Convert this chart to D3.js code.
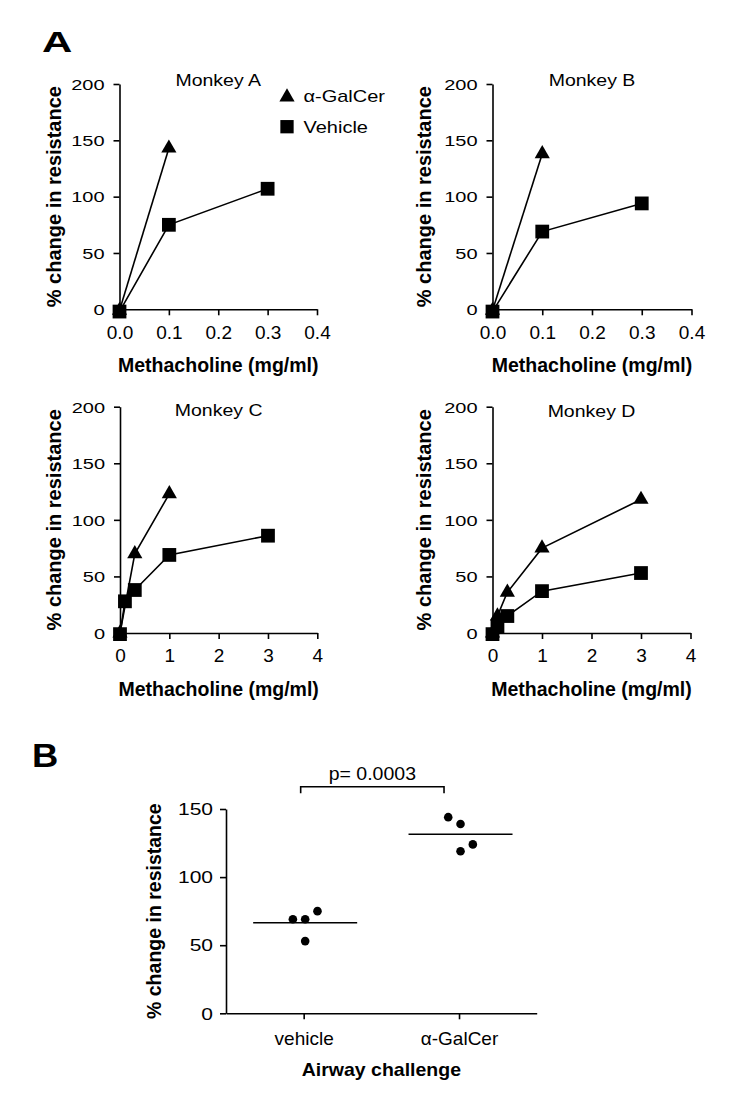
<!DOCTYPE html>
<html><head><meta charset="utf-8">
<script src="https://cdn.jsdelivr.net/npm/d3@7"></script>
<style>
body{margin:0;background:#fff}
svg{display:block}
text{font-family:"Liberation Sans",Arial,Helvetica,sans-serif;fill:#000}
</style>
</head><body>
<svg id="fig" width="750" height="1097"></svg>
<script>
// ---------------- DATA ----------------
const panelTitles = ["Monkey A", "Monkey B", "Monkey C", "Monkey D"];
const seriesNames = ["α-GalCer", "Vehicle"];
const xAxisTitle = "Methacholine (mg/ml)";
const yAxisTitle = "% change in resistance";
const xTicksLow = [0, 0.1, 0.2, 0.3, 0.4];
const xTicksHigh = [0, 1, 2, 3, 4];
const yTicksA = [0, 50, 100, 150, 200];

const monkeyADoseGal = [0, 0.1];
const monkeyAGal = [-1, 143];
const monkeyADoseVeh = [0, 0.1, 0.3];
const monkeyAVeh = [-2, 75, 107];

const monkeyBDoseGal = [0, 0.1];
const monkeyBGal = [-1, 138];
const monkeyBDoseVeh = [0, 0.1, 0.3];
const monkeyBVeh = [-2, 69, 94];

const monkeyCDoseGal = [0, 0.3, 1];
const monkeyCGal = [0, 70, 123];
const monkeyCDoseVeh = [0, 0.1, 0.3, 1, 3];
const monkeyCVeh = [-1, 28, 38, 69, 86];

const monkeyDDoseGal = [0, 0.1, 0.3, 1, 3];
const monkeyDGal = [0, 15, 36, 75, 118];
const monkeyDDoseVeh = [0, 0.1, 0.3, 1, 3];
const monkeyDVeh = [-1, 6, 15, 37, 53];

const groups = ["vehicle", "α-GalCer"];
const vehicleValues = [69, 69, 75, 53];
const galcerValues = [144, 139, 119, 124];
const yTicksB = [0, 50, 100, 150];
const pLabel = "p= 0.0003";
const xAxisTitleB = "Airway challenge";

// ---------------- DRAWING ----------------
const svg = d3.select("#fig");
const FONT_TICK = 19;

function txt(g, x, y, s, o = {}) {
  return g.append("text")
    .attr("transform", `translate(${x},${y}) rotate(${o.rot || 0}) scale(${o.sx || 1},${o.sy || 1})`)
    .attr("text-anchor", o.anchor || "start")
    .style("font-size", (o.size || 19) + "px")
    .style("font-weight", o.bold ? "bold" : "normal")
    .text(s);
}

const panels = [
  {title: panelTitles[0], x0: 119.5, x1: 317, y0: 309.3, y1: 84, ticks: xTicksLow,
   gal: [monkeyADoseGal, monkeyAGal], veh: [monkeyADoseVeh, monkeyAVeh], ylab: 61, titleY: 85.5, legend: true},
  {title: panelTitles[1], x0: 492.5, x1: 691.5, y0: 309.3, y1: 84, ticks: xTicksLow,
   gal: [monkeyBDoseGal, monkeyBGal], veh: [monkeyBDoseVeh, monkeyBVeh], ylab: 431, titleY: 86},
  {title: panelTitles[2], x0: 120, x1: 317.3, y0: 633, y1: 406.7, ticks: xTicksHigh,
   gal: [monkeyCDoseGal, monkeyCGal], veh: [monkeyCDoseVeh, monkeyCVeh], ylab: 61, titleY: 416},
  {title: panelTitles[3], x0: 492.5, x1: 690.5, y0: 633, y1: 406.7, ticks: xTicksHigh,
   gal: [monkeyDDoseGal, monkeyDGal], veh: [monkeyDDoseVeh, monkeyDVeh], ylab: 431, titleY: 417},
];

const triSym = d3.symbol().type(d3.symbolTriangle).size(100);
const sqSym = d3.symbol().type(d3.symbolSquare).size(190);

function styleAxis(g) {
  g.selectAll("path.domain").attr("stroke", "#000").attr("stroke-width", 1.6);
  g.selectAll(".tick line").attr("stroke", "#000").attr("stroke-width", 1.6);
  g.selectAll("text").attr("fill", "#000").style("font-family", '"Liberation Sans",Arial,sans-serif');
}

panels.forEach(p => {
  const xMax = p.ticks[p.ticks.length - 1];
  const x = d3.scaleLinear().domain([0, xMax]).range([p.x0, p.x1]);
  const y = d3.scaleLinear().domain([0, 200]).range([p.y0, p.y1]);
  const g = svg.append("g");

  const gy = g.append("g").attr("transform", `translate(${p.x0},0)`)
    .call(d3.axisLeft(y).tickValues(yTicksA).tickSize(6).tickSizeOuter(0).tickPadding(9).tickFormat(d3.format("d")));
  styleAxis(gy);
  gy.selectAll("text").style("font-size", "20px").attr("dy", "0.36em")
    .attr("transform", "scale(1,0.74)");

  const fmt = xMax < 1 ? d3.format(".1f") : d3.format("d");
  const gx = g.append("g").attr("transform", `translate(0,${p.y0})`)
    .call(d3.axisBottom(x).tickValues(p.ticks).tickSize(6).tickSizeOuter(0).tickPadding(10).tickFormat(fmt));
  styleAxis(gx);
  gx.selectAll("text").style("font-size", FONT_TICK + "px");

  // axis titles
  txt(g, (p.x0 + p.x1) / 2, p.y0 + 63, xAxisTitle, {anchor: "middle", bold: true, size: 19.5});
  txt(g, p.ylab, (p.y0 + p.y1) / 2, yAxisTitle, {anchor: "middle", bold: true, size: 20, rot: -90});
  // panel title
  txt(g, (p.x0 + p.x1) / 2, p.titleY, p.title, {anchor: "middle", size: 19.5, sy: 0.87});

  const line = d3.line().x(d => x(d[0])).y(d => y(d[1]));
  const galPts = p.gal[0].map((d, i) => [d, p.gal[1][i]]);
  const vehPts = p.veh[0].map((d, i) => [d, p.veh[1][i]]);
  [galPts, vehPts].forEach(pts => {
    g.append("path").attr("d", line(pts)).attr("fill", "none").attr("stroke", "#000").attr("stroke-width", 1.6);
  });
  g.selectAll(null).data(galPts).enter().append("path")
    .attr("d", triSym).attr("transform", d => `translate(${x(d[0])},${y(d[1])})`).attr("fill", "#000");
  g.selectAll(null).data(vehPts).enter().append("path")
    .attr("d", sqSym).attr("transform", d => `translate(${x(d[0])},${y(d[1])})`).attr("fill", "#000");

  if (p.legend) {
    const lx = p.x1 - 30;
    g.append("path").attr("d", triSym).attr("transform", `translate(${lx},97)`).attr("fill", "#000");
    g.append("path").attr("d", d3.symbol().type(d3.symbolSquare).size(177)).attr("transform", `translate(${lx},126.7)`).attr("fill", "#000");
    txt(g, lx + 16.5, 102.3, seriesNames[0], {size: 20, sy: 0.85});
    txt(g, lx + 16.5, 132.8, seriesNames[1], {size: 20, sy: 0.85});
  }
});

// panel letters
txt(svg, 42, 51.7, "A", {bold: true, size: 30, sx: 1.4});
txt(svg, 32, 766.7, "B", {bold: true, size: 32.5, sx: 1.12});

// ---------------- PANEL B ----------------
(function () {
  const x0 = 226, x1 = 536.7, y0 = 1013.3, y1 = 809;
  const x = d3.scalePoint().domain(groups).range([x0, x1]).padding(0.5);
  const y = d3.scaleLinear().domain([0, 150]).range([y0, y1]);
  const g = svg.append("g");

  const gy = g.append("g").attr("transform", `translate(${x0},0)`)
    .call(d3.axisLeft(y).tickValues(yTicksB).tickSize(6).tickSizeOuter(0).tickPadding(7).tickFormat(d3.format("d")));
  styleAxis(gy);
  gy.selectAll("text").style("font-size", "21px").attr("dy", "0.36em").attr("transform", "scale(1,0.76)");

  const gx = g.append("g").attr("transform", `translate(0,${y0})`)
    .call(d3.axisBottom(x).tickSize(6).tickSizeOuter(0).tickPadding(12));
  styleAxis(gx);
  gx.selectAll("text").style("font-size", "19px");

  txt(g, (x0 + x1) / 2, 1076, xAxisTitleB, {anchor: "middle", bold: true, size: 19.5, sy: 0.9});
  txt(g, 161, (y0 + y1) / 2, yAxisTitle, {anchor: "middle", bold: true, size: 19.5, rot: -90});

  const sets = [vehicleValues, galcerValues];
  const jitter = [[-1, 0, 1, 0], [-1, 0, 0, 1]];
  const step = 12.3;
  sets.forEach((vals, gi) => {
    const cx = x(groups[gi]) + 1.5;
    g.selectAll(null).data(vals).enter().append("circle")
      .attr("cx", (d, i) => cx + jitter[gi][i] * step)
      .attr("cy", d => y(d)).attr("r", 4.3).attr("fill", "#000");
    const m = d3.mean(vals);
    g.append("line").attr("x1", cx - 52).attr("x2", cx + 52)
      .attr("y1", y(m)).attr("y2", y(m)).attr("stroke", "#000").attr("stroke-width", 1.6);
  });

  // significance bracket
  const bxL = x(groups[0]) - 3, bxR = x(groups[1]) - 15, by = 786.7;
  g.append("path").attr("d", `M${bxL},${by + 6.6}V${by}H${bxR}V${by + 6.6}`)
    .attr("fill", "none").attr("stroke", "#000").attr("stroke-width", 1.6);
  txt(g, (bxL + bxR) / 2, 780, pLabel, {anchor: "middle", size: 19.5, sy: 0.9});
})();
</script>
</body></html>
